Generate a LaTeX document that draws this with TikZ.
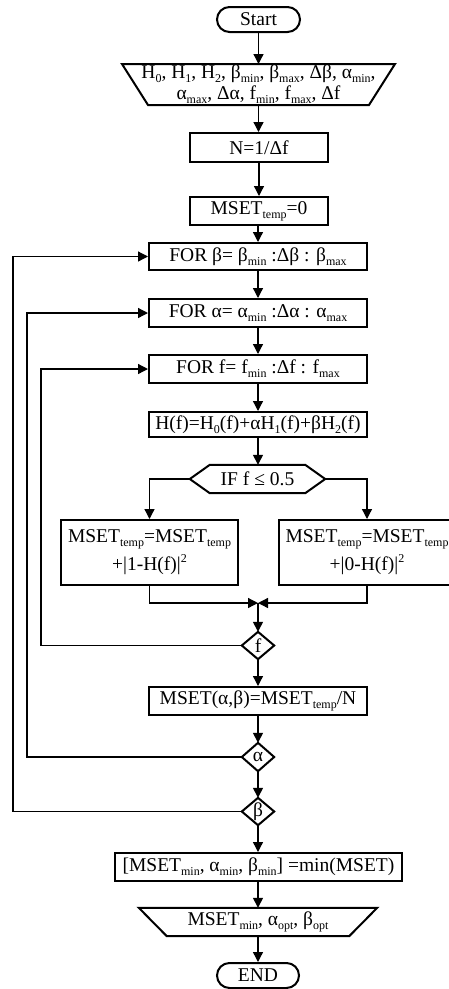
\documentclass[tikz,border=0pt]{standalone}
\usepackage{fontspec}
\setmainfont{Liberation Serif}
\usetikzlibrary{arrows.meta}
\newcommand{\dn}[1]{\raisebox{-0.2em}{\fontsize{12}{12}\selectfont #1}}
\newcommand{\up}[1]{\raisebox{0.45em}{\fontsize{12}{12}\selectfont #1}}
\begin{document}
\begin{tikzpicture}[x=1pt,y=-1pt,
  font=\fontsize{19.5}{22}\selectfont,
  proc/.style={draw, line width=2pt, inner sep=1pt, align=center},
  term/.style={draw, line width=2pt, rounded corners=12.5pt, inner sep=0pt, minimum height=25},
  ghost/.style={inner sep=0pt, align=center},
  shapeline/.style={line width=2pt, line join=miter},
  conn/.style={line width=1.3pt, -{Triangle[length=10pt,width=10pt]}},
  plain/.style={line width=1.3pt}]
\useasboundingbox (0,0) rectangle (448,989);
\fill[white] (0,0) rectangle (448,989);

% nodes
\node[term, minimum width=83] (start) at (258.5,19.5) {Start};
\coordinate (inc) at (258.5,84.5);
\node[ghost, font=\fontsize{19.5}{20}\selectfont] (in) at (inc)
  {H\dn{0}, H\dn{1}, H\dn{2}, β\dn{min}, β\dn{max}, Δβ, α\dn{min},\\[1pt]
   α\dn{max}, Δα, f\dn{min}, f\dn{max}, Δf};
\draw[shapeline] ([shift={(-136.5,-20.5)}]inc) -- ([shift={(136.5,-20.5)}]inc) -- ([shift={(110.5,20.5)}]inc) -- ([shift={(-110.5,20.5)}]inc) -- cycle;
\coordinate (inN) at ([shift={(0,-20.5)}]inc);
\coordinate (inS) at ([shift={(0,20.5)}]inc);
\node[proc, minimum width=138, minimum height=29] (n) at (259,147.5) {N=1/Δf};
\node[proc, minimum width=138, minimum height=28] (m0) at (259,211) {MSET\dn{temp}=0};
\node[proc, minimum width=218, minimum height=27] (forb) at (258,256.5) {FOR β= β\dn{min} :Δβ : β\dn{max}};
\node[proc, minimum width=218, minimum height=28] (fora) at (258,313) {FOR α= α\dn{min} :Δα : α\dn{max}};
\node[proc, minimum width=218, minimum height=28] (forf) at (258,369) {FOR f= f\dn{min} :Δf : f\dn{max}};
\node[proc, minimum width=218, minimum height=25] (h) at (258,424.5) {H(f)=H\dn{0}(f)+αH\dn{1}(f)+βH\dn{2}(f)};
\node[ghost, minimum width=135, minimum height=28] (if) at (257.5,479) {IF f ≤ 0.5};
\draw[shapeline] (if.west) -- ([xshift=20]if.north west) -- ([xshift=-20]if.north east) -- (if.east) -- ([xshift=-20]if.south east) -- ([xshift=20]if.south west) -- cycle;
\node[proc, minimum width=177, minimum height=65] (L) at (149.5,552.5) {MSET\dn{temp}=MSET\dn{temp}\\[4pt] +|1-H(f)|\up{2}};
\node[proc, minimum width=177, minimum height=65] (R) at (367,552.5) {MSET\dn{temp}=MSET\dn{temp}\\[4pt] +|0-H(f)|\up{2}};
\coordinate (mg) at (258,603);
\node[ghost, minimum width=32, minimum height=27] (fd) at (258,645.5) {f};
\draw[shapeline] (fd.north) -- (fd.east) -- (fd.south) -- (fd.west) -- cycle;
\node[proc, minimum width=218, minimum height=28] (mab) at (258,701) {MSET(α,β)=MSET\dn{temp}/N};
\node[ghost, minimum width=32, minimum height=28] (ad) at (258,757) {α};
\draw[shapeline] (ad.north) -- (ad.east) -- (ad.south) -- (ad.west) -- cycle;
\node[ghost, minimum width=32, minimum height=27] (bd) at (258,811.5) {β};
\draw[shapeline] (bd.north) -- (bd.east) -- (bd.south) -- (bd.west) -- cycle;
\node[proc, minimum width=287, minimum height=28] (mn) at (258.5,867) {[MSET\dn{min}, α\dn{min}, β\dn{min}] =min(MSET)};
\node[ghost, minimum width=238, minimum height=28] (out) at (258,922) {MSET\dn{min}, α\dn{opt}, β\dn{opt}};
\draw[shapeline] (out.north west) -- (out.north east) -- ([xshift=-28]out.south east) -- ([xshift=28]out.south west) -- cycle;
\node[term, minimum width=82] (end) at (258,975.5) {END};

% loop columns
\coordinate (cb) at (13,0);
\coordinate (ca) at (27,0);
\coordinate (cf) at (41,0);

% connectors
\draw[conn] (start) -- (inN -| start);
\draw[conn] (inS -| start) -- (n.north -| start);
\draw[conn] (n) -- (m0);
\draw[conn] (m0.south -| forb) -- (forb);
\draw[conn] (forb) -- (fora);
\draw[conn] (fora) -- (forf);
\draw[conn] (forf) -- (h);
\draw[conn] (h) -- (if.north -| h);
\draw[conn] (if.west) -| (L.north);
\draw[conn] (if.east) -| (R.north);
\draw[conn] (L.south) |- (mg);
\draw[conn] (R.south) |- (mg);
\draw[conn] (mg) -- (fd.north);
\draw[conn] (fd.south) -- (mab.north);
\draw[conn] (mab.south) -- (ad.north);
\draw[conn] (ad.south) -- (bd.north);
\draw[conn] (bd.south) -- (mn.north -| bd);
\draw[conn] (mn.south -| out) -- (out.north);
\draw[conn] (out.south) -- (end);
\draw[conn] (fd.west) -- (fd.west -| cf) |- (forf.west);
\draw[conn] (ad.west) -- (ad.west -| ca) |- (fora.west);
\draw[conn] (bd.west) -- (bd.west -| cb) |- (forb.west);
\end{tikzpicture}
\end{document}
